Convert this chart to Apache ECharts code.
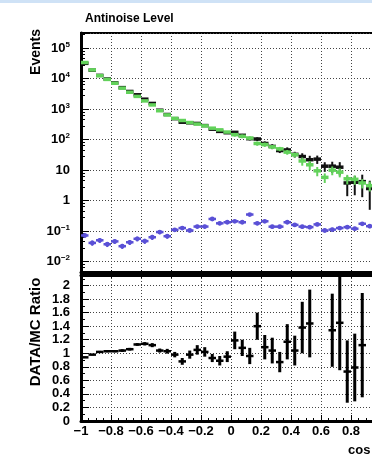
<!DOCTYPE html>
<html>
<head>
<meta charset="utf-8">
<script src="https://cdn.jsdelivr.net/npm/echarts@6/dist/echarts.min.js"></script>
<style>
  html, body { margin: 0; padding: 0; background: #fff; overflow: hidden; }
  #chart { width: 400px; height: 458px; }
</style>
</head>
<body>
<div id="chart"></div>
<script>
// bins: 40 bins of width 0.05 from -1 to 1
var binLow = -1;
var binWidth = 0.05;
var binCount = 40;

// data events (black), per bin
var dataEvents = [32000, 19100, 12850, 9790, 7310, 5100, 3820, 2970, 2130, 1545,
                  925, 670, 490, 374, 358, 341, 290, 221, 187, 169,
                  174, 139, 108, 105, 75, 60, 44, 46, 33, 28,
                  22, 23, 13.5, 13.5, 12.5, 3.8, 4.0, 4.2, 2.5, 2.0];
var dataErr = [180, 140, 113, 99, 85, 71, 62, 54, 46, 39,
               30, 26, 22, 21, 20, 19, 17, 15, 14, 13,
               19, 15, 13.5, 15, 13, 11, 7.6, 10, 7, 7.8,
               7.6, 7, 4.7, 5.4, 5.8, 2.4, 2.5, 2.9, 2, 1.8];

// MC prediction (green)
var mcEvents = [34000, 19500, 12600, 9500, 7100, 4900, 3600, 2630, 1870, 1380,
                890, 650, 500, 425, 365, 325, 284, 238, 210, 178,
                146, 129, 113, 75, 69, 58, 50, 39, 32, 20,
                15, 9.5, 5.8, 10, 8.6, 5.2, 5.0, 3.8, 3.1, 2.6];
var mcErr = [340, 200, 130, 95, 70, 50, 36, 27, 19, 14,
             9, 7, 5, 4.5, 4, 3.5, 3.2, 3, 2.8, 2.6,
             20, 18, 16, 12, 11, 9, 8, 7, 6, 6,
             5, 3.2, 2, 3.2, 2.8, 1.8, 1.7, 1.3, 1.1, 0.9];

// antinoise level (blue)
var antinoise = [0.072, 0.041, 0.050, 0.037, 0.046, 0.032, 0.043, 0.056, 0.047, 0.063,
                 0.093, 0.068, 0.110, 0.126, 0.105, 0.141, 0.141, 0.250, 0.180, 0.195,
                 0.210, 0.195, 0.350, 0.180, 0.210, 0.140, 0.140, 0.195, 0.160, 0.140,
                 0.135, 0.166, 0.105, 0.112, 0.126, 0.135, 0.120, 0.174, 0.145, 0.160];
var antinoiseErr = [0.012, 0.008, 0.009, 0.007, 0.008, 0.006, 0.008, 0.010, 0.009, 0.012,
                    0.014, 0.012, 0.016, 0.018, 0.016, 0.020, 0.020, 0.030, 0.024, 0.025,
                    0.026, 0.025, 0.040, 0.024, 0.026, 0.020, 0.020, 0.025, 0.022, 0.020,
                    0.020, 0.022, 0.016, 0.017, 0.018, 0.019, 0.018, 0.024, 0.021, 0.022];

// DATA/MC ratio
var ratio = [0.94, 0.98, 1.02, 1.03, 1.03, 1.04, 1.06, 1.13, 1.14, 1.12,
             1.04, 1.03, 0.98, 0.88, 0.98, 1.05, 1.02, 0.93, 0.89, 0.95,
             1.19, 1.08, 0.96, 1.40, 1.09, 1.04, 0.87, 1.17, 1.04, 1.38,
             1.44, null, null, 1.34, 1.45, 0.73, 0.79, 1.12, null, null];
var ratioErr = [0.01, 0.01, 0.015, 0.015, 0.015, 0.02, 0.02, 0.02, 0.025, 0.03,
                0.03, 0.035, 0.04, 0.05, 0.06, 0.07, 0.07, 0.06, 0.07, 0.08,
                0.13, 0.12, 0.12, 0.20, 0.18, 0.19, 0.15, 0.26, 0.22, 0.38,
                0.50, null, null, 0.54, 0.70, 0.46, 0.50, 0.77, null, null];

var logMin = 0.00363;
var logMax = 316228;

var FONT = 'Liberation Sans';

var binCenters = [];
for (var i = 0; i < binCount; i++) {
  binCenters.push(binLow + binWidth * (i + 0.5));
}

function toData(vals, errs) {
  var out = [];
  for (var i = 0; i < vals.length; i++) {
    if (vals[i] == null) continue;
    out.push([binCenters[i], vals[i], errs[i]]);
  }
  return out;
}

// error-bar style histogram point: horizontal bin segment + vertical error line
function errRenderer(opt) {
  return function (params, api) {
    var x = api.value(0), y = api.value(1), e = api.value(2);
    var lo = y - e;
    if (opt.log && lo <= 0) lo = logMin;
    var hi = y + e;
    var p0 = api.coord([x - binWidth / 2, y]);
    var p1 = api.coord([x + binWidth / 2, y]);
    var pt = api.coord([x, hi]);
    var pb = api.coord([x, lo]);
    var children = [
      {
        type: 'line',
        shape: { x1: p0[0], y1: p0[1], x2: p1[0], y2: p1[1] },
        style: { stroke: opt.color, lineWidth: opt.hWidth }
      },
      {
        type: 'line',
        shape: { x1: pt[0], y1: pt[1], x2: pb[0], y2: pb[1] },
        style: { stroke: opt.color, lineWidth: opt.vWidth }
      }
    ];
    if (opt.marker) {
      children.push({
        type: 'circle',
        shape: { cx: (p0[0] + p1[0]) / 2, cy: p0[1], r: opt.marker },
        style: { fill: opt.color }
      });
    }
    return { type: 'group', children: children };
  };
}

function fmtX(v) {
  var s = String(Math.round(v * 10) / 10);
  return s.replace('-', '\u2212');
}

function fmtLog(v) {
  var l = Math.log(v) / Math.LN10;
  var e = Math.round(l);
  if (Math.abs(l - e) > 1e-6) return '';
  if (e === 0) return '1';
  if (e === 1) return '10';
  return '10{s|' + (e < 0 ? '\u2212' + (-e) : e) + '}';
}

var dotted = { color: '#444', width: 1, type: [1, 2] };
var labelBase = { fontFamily: FONT, fontWeight: 'bold', fontSize: 13, color: '#000' };

var chart = echarts.init(document.getElementById('chart'), null, { renderer: 'canvas' });

var option = {
  backgroundColor: '#fff',
  animation: false,
  title: {
    text: 'Antinoise Level',
    left: 80,
    top: 8,
    textStyle: { fontFamily: FONT, fontWeight: 'bold', fontSize: 12, color: '#000' }
  },
  grid: [
    { left: 81, top: 33, width: 300, height: 242, show: true, borderColor: '#000', borderWidth: 2, backgroundColor: '#fff' },
    { left: 81, top: 272, width: 300, height: 149, show: true, borderColor: '#000', borderWidth: 2, backgroundColor: 'transparent' }
  ],
  xAxis: [
    {
      type: 'value', gridIndex: 0, min: -1, max: 1, interval: 0.2,
      axisLine: { show: true, onZero: false, lineStyle: { color: '#000', width: 3 } },
      axisTick: { show: true, inside: true, length: 5, lineStyle: { color: '#000', width: 1 } },
      minorTick: { show: true, splitNumber: 4, length: 3, lineStyle: { color: '#000', width: 1 } },
      axisLabel: { show: false },
      splitLine: { show: true, lineStyle: dotted }
    },
    {
      type: 'value', gridIndex: 1, min: -1, max: 1, interval: 0.2,
      axisLine: { show: true, onZero: false, lineStyle: { color: '#000', width: 3 } },
      axisTick: { show: true, inside: true, length: 6, lineStyle: { color: '#000', width: 1 } },
      minorTick: { show: true, splitNumber: 4, length: 3, lineStyle: { color: '#000', width: 1 } },
      axisLabel: Object.assign({ margin: 4, formatter: fmtX, showMaxLabel: false }, labelBase),
      splitLine: { show: true, lineStyle: dotted }
    },
    {
      type: 'value', gridIndex: 1, min: -1, max: 1, interval: 0.2, position: 'top',
      axisLine: { show: true, onZero: false, lineStyle: { color: '#000', width: 3 } },
      axisTick: { show: true, inside: true, length: 6, lineStyle: { color: '#000', width: 1 } },
      minorTick: { show: true, splitNumber: 4, length: 3, lineStyle: { color: '#000', width: 1 } },
      axisLabel: { show: false },
      splitLine: { show: false }
    }
  ],
  yAxis: [
    {
      type: 'log', logBase: 10, gridIndex: 0, min: logMin, max: logMax, splitNumber: 8,
      axisLine: { show: true, onZero: false, lineStyle: { color: '#000', width: 3 } },
      axisTick: { show: true, inside: true, length: 8, lineStyle: { color: '#000', width: 1 } },
      minorTick: { show: true, splitNumber: 5, length: 4, lineStyle: { color: '#000', width: 1 } },
      axisLabel: Object.assign({
        margin: 11, formatter: fmtLog, showMinLabel: false, showMaxLabel: false,
        rich: { s: { fontFamily: FONT, fontWeight: 'bold', fontSize: 8, color: '#000', padding: [0, 0, 7, 0] } }
      }, labelBase),
      splitLine: { show: true, lineStyle: dotted }
    },
    {
      type: 'value', gridIndex: 1, min: 0, max: 2.2, interval: 0.2,
      axisLine: { show: true, onZero: false, lineStyle: { color: '#000', width: 3 } },
      axisTick: { show: true, inside: true, length: 8, lineStyle: { color: '#000', width: 1 } },
      minorTick: { show: true, splitNumber: 2, length: 4, lineStyle: { color: '#000', width: 1 } },
      axisLabel: Object.assign({ margin: 11, showMaxLabel: false }, labelBase),
      splitLine: { show: true, lineStyle: dotted }
    }
  ],
  graphic: [
    { type: 'rect', left: 0, top: 0, shape: { width: 400, height: 3 }, style: { fill: '#cfe2f6' }, z: 100 },
    {
      type: 'text', x: 36, y: 52, rotation: Math.PI / 2,
      style: { text: 'Events', fontFamily: FONT, fontWeight: 'bold', fontSize: 14, fill: '#000', align: 'center', verticalAlign: 'middle' }
    },
    {
      type: 'text', x: 36, y: 332, rotation: Math.PI / 2,
      style: { text: 'DATA/MC Ratio', fontFamily: FONT, fontWeight: 'bold', fontSize: 15, fill: '#000', align: 'center', verticalAlign: 'middle' }
    },
    {
      type: 'text', x: 348, y: 450,
      style: { text: 'cos \u03b8', fontFamily: FONT, fontWeight: 'bold', fontSize: 13, fill: '#000', align: 'left', verticalAlign: 'middle' }
    }
  ],
  series: [
    {
      name: 'Data', type: 'custom', xAxisIndex: 0, yAxisIndex: 0, clip: true,
      renderItem: errRenderer({ color: '#111', hWidth: 3.5, vWidth: 2, log: true }),
      data: toData(dataEvents, dataErr), z: 3
    },
    {
      name: 'MC', type: 'custom', xAxisIndex: 0, yAxisIndex: 0, clip: true,
      renderItem: errRenderer({ color: '#62d25a', hWidth: 3.5, vWidth: 2, log: true }),
      data: toData(mcEvents, mcErr), z: 4
    },
    {
      name: 'Antinoise', type: 'custom', xAxisIndex: 0, yAxisIndex: 0, clip: true,
      renderItem: errRenderer({ color: '#5a50d6', hWidth: 2.5, vWidth: 2, log: true, marker: 2.4 }),
      data: toData(antinoise, antinoiseErr), z: 5
    },
    {
      name: 'Ratio', type: 'custom', xAxisIndex: 1, yAxisIndex: 1, clip: true,
      renderItem: errRenderer({ color: '#000', hWidth: 2.5, vWidth: 3 }),
      data: toData(ratio, ratioErr), z: 5
    }
  ]
};

chart.setOption(option);
</script>
</body>
</html>
